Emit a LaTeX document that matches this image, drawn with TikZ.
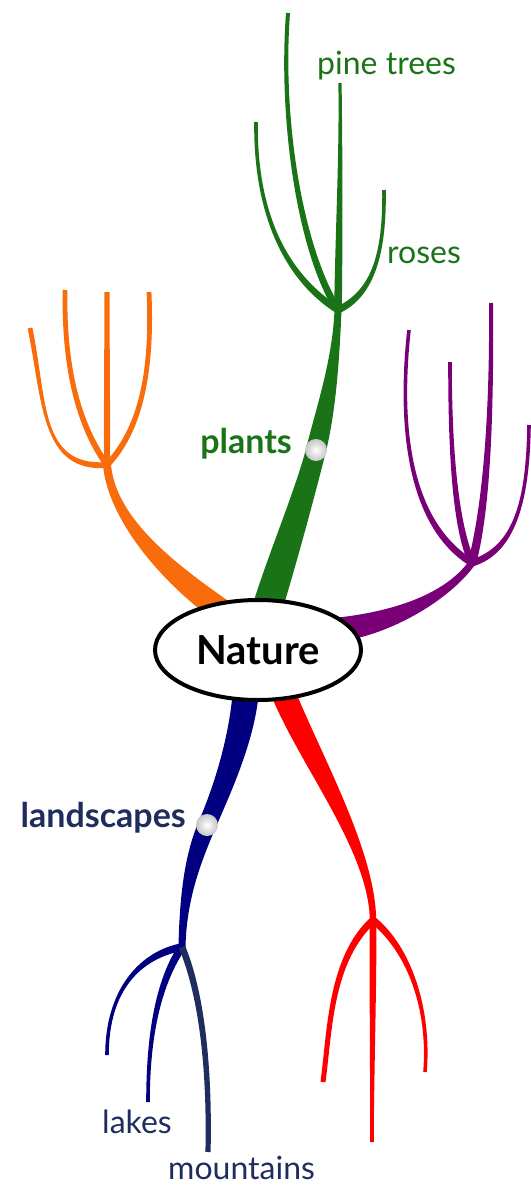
\documentclass[tikz,border=0pt]{standalone}
\usepackage{fontspec}
\setmainfont{Lato}
\usepackage{xcolor}
\usepackage{tikz}
\usetikzlibrary{calc,shapes.geometric,backgrounds}
\definecolor{natgreen}{HTML}{1B7317}
\definecolor{natorange}{HTML}{F86C0B}
\definecolor{natpurple}{HTML}{7A0077}
\definecolor{natnavy}{HTML}{000080}
\definecolor{natslate}{HTML}{1F2D5E}
\definecolor{natred}{HTML}{FF0000}
\tikzset{
  topic/.style={ellipse, draw=black, line width=4pt, fill=white, minimum width=206pt, minimum height=100pt, inner sep=0pt, font=\fontsize{40}{48}\selectfont\bfseries},
  mainlabel/.style={inner sep=0pt, font=\fontsize{34}{40}\selectfont\bfseries},
  sublabel/.style={inner sep=0pt, font=\fontsize{32}{38}\selectfont},
  knob/.style={circle, shading=radial, inner color=white, outer color=gray!45, minimum size=22pt, inner sep=0pt}
}
% tapered branch: colour, from, control 1, control 2, to, half width at from, half width at to
\newcommand\drawbranch[7]{%
  \fill[#1] ($(#2)!#6!90:(#3)$)
    .. controls ($(#3)!#6!-90:(#2)$) and ($(#4)!#7!90:(#5)$) .. ($(#5)!#7!-90:(#4)$)
    -- ($(#5)!#7!90:(#4)$)
    .. controls ($(#4)!#7!-90:(#5)$) and ($(#3)!#6!90:(#2)$) .. ($(#2)!#6!-90:(#3)$) -- cycle;
}

\begin{document}
\begin{tikzpicture}[x=1pt,y=-1pt]
  \useasboundingbox (0,0) rectangle (530,1188);

  \node[topic] (nature) at (258,650) {Nature};
  \node[knob] (plantsdot) at (316,450) {};
  \node[knob] (landdot) at (207,825) {};

  \coordinate (gbase) at (266,612);
  \coordinate (obase) at (226,614);
  \coordinate (pbase) at (334,630);
  \coordinate (nbase) at (246,690);
  \coordinate (rbase) at (282,690);

  \coordinate (gfork) at (338,310);
  \coordinate (ofork) at (107,465);
  \coordinate (pfork) at (472,563);
  \coordinate (nfork) at (182,947);
  \coordinate (rfork) at (373,920);

  \node[sublabel, text=natgreen, anchor=base west] (pinetrees) at (317,75) {pine trees};
  \node[sublabel, text=natgreen, anchor=base west] (roses) at (387,263) {roses};
  \node[mainlabel, text=natgreen, anchor=base east] (plants) at (292,453) {plants};
  \node[mainlabel, text=natslate, anchor=base east] (landscapes) at (186,827) {landscapes};
  \node[sublabel, text=natslate, anchor=base west] (lakes) at (102,1133) {lakes};
  \node[sublabel, text=natslate, anchor=base west] (mountains) at (168,1179) {mountains};

  \begin{scope}[on background layer]
    % plants
    \drawbranch{natgreen}{gbase}{282,560}{306,490}{plantsdot}{15pt}{10pt}
    \drawbranch{natgreen}{plantsdot}{326,410}{336,360}{gfork}{10pt}{3.5pt}
    \drawbranch{natgreen}{gfork}{300,250}{280,120}{288,13}{3.5pt}{2pt}
    \drawbranch{natgreen}{gfork}{290,280}{255,220}{256,122}{3.5pt}{1.8pt}
    \drawbranch{natgreen}{gfork}{339,230}{341,160}{340,83}{3.8pt}{1.6pt}
    \drawbranch{natgreen}{gfork}{370,295}{385,260}{384,190}{3.5pt}{1.8pt}
    % orange
    \drawbranch{natorange}{obase}{170,575}{112,520}{ofork}{12pt}{4pt}
    \drawbranch{natorange}{ofork}{40,470}{45,400}{30,328}{3pt}{2.4pt}
    \drawbranch{natorange}{ofork}{75,420}{64,360}{65,290}{3pt}{2.4pt}
    \drawbranch{natorange}{ofork}{107,410}{107,350}{107,292}{3.2pt}{2.6pt}
    \drawbranch{natorange}{ofork}{145,425}{152,360}{149,292}{3pt}{2.4pt}
    % purple
    \drawbranch{natpurple}{pbase}{385,625}{445,600}{pfork}{12pt}{3.5pt}
    \drawbranch{natpurple}{pfork}{410,525}{398,430}{409,330}{3.5pt}{1.8pt}
    \drawbranch{natpurple}{pfork}{455,525}{450,450}{450,362}{3.5pt}{1.8pt}
    \drawbranch{natpurple}{pfork}{486,510}{492,420}{491,303}{4.2pt}{2pt}
    \drawbranch{natpurple}{pfork}{515,550}{528,500}{529,425}{3.5pt}{1.8pt}
    % landscapes
    \drawbranch{natnavy}{nbase}{242,740}{222,790}{landdot}{13pt}{9pt}
    \drawbranch{natnavy}{landdot}{192,860}{183,900}{nfork}{9pt}{3.5pt}
    \drawbranch{natnavy}{nfork}{140,955}{107,990}{107,1055}{3.8pt}{1.8pt}
    \drawbranch{natnavy}{nfork}{160,980}{148,1030}{148,1102}{3.8pt}{1.8pt}
    \drawbranch{natslate}{nfork}{200,990}{210,1060}{208,1152}{3.3pt}{2.6pt}
    % red
    \drawbranch{natred}{rbase}{310,760}{372,850}{rfork}{12pt}{3.2pt}
    \drawbranch{natred}{rfork}{330,960}{330,1030}{323,1082}{3.5pt}{2.5pt}
    \drawbranch{natred}{rfork}{373,1000}{372,1080}{372,1142}{3.5pt}{1.8pt}
    \drawbranch{natred}{rfork}{410,950}{430,1010}{425,1072}{3.5pt}{1.8pt}
  \end{scope}
\end{tikzpicture}
\end{document}
